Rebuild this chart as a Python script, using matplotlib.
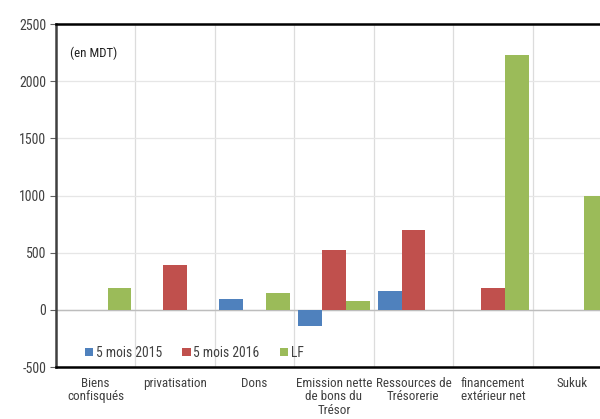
import matplotlib
matplotlib.use("Agg")
import matplotlib.pyplot as plt
import numpy as np
from matplotlib import font_manager

categories = ["Biens\nconfisqués", "privatisation", "Dons", "Emission nette\nde bons du\nTrésor",
              "Ressources de\nTrésorerie", "financement\nextérieur net", "Sukuk"]
series_names = ["5 mois 2015", "5 mois 2016", "LF"]
mois_2015 = [0, 0, 95, -145, 165, 0, 0]
mois_2016 = [0, 395, 0, 525, 700, 195, 0]
lf = [195, 0, 150, 80, 0, 2230, 1000]
colors = ["#4F81BD", "#C0504D", "#9BBB59"]
yticks = [-500, 0, 500, 1000, 1500, 2000, 2500]

names = {f.name for f in font_manager.fontManager.ttflist}
fam = "DejaVu Sans"
for cand in ["Roboto Condensed", "Liberation Sans Narrow", "Open Sans Condensed", "Lato"]:
    if cand in names:
        fam = cand
        break
plt.rcParams["font.family"] = [fam, "DejaVu Sans"]

fig = plt.figure(figsize=(6, 4.19), dpi=100)
ax = fig.add_axes([0.0933, 0.124, 0.9267, 0.8186])

x = np.arange(len(categories))
w = 0.3
for i, (vals, c, name) in enumerate(zip([mois_2015, mois_2016, lf], colors, series_names)):
    ax.bar(x + (i - 1) * w, vals, width=w, color=c, label=name, zorder=3)

ax.set_xlim(-0.5, len(categories) - 0.5)
ax.set_ylim(-500, 2500)
ax.set_yticks(yticks)
ax.set_yticklabels([str(t) for t in yticks], fontsize=10, color="#404040")

ax.set_xticks(x)
ax.set_xticklabels(categories, fontsize=9.4, color="#404040", linespacing=1.05)
ax.tick_params(axis="x", length=0, pad=7)
ax.tick_params(axis="y", length=4, width=0.8, color="#606060", pad=3)

ax.set_xticks(np.arange(len(categories) + 1) - 0.5, minor=True)
ax.tick_params(axis="x", which="minor", length=0)
ax.grid(True, which="minor", axis="x", color="#dcdcdc", lw=0.9, zorder=0)
ax.grid(True, which="major", axis="y", color="#e6e6e6", lw=0.9, zorder=0)
ax.axhline(0, color="#bdbdbd", lw=1.0, zorder=2)

for s in ["top", "bottom"]:
    ax.spines[s].set_color("black")
    ax.spines[s].set_linewidth(1.8)
ax.spines["left"].set_color("#404040")
ax.spines["left"].set_linewidth(1.8)
ax.spines["right"].set_visible(False)

ax.text(0.025, 0.905, "(en MDT)", transform=ax.transAxes, fontsize=9.3, color="#202020")

leg = ax.legend(loc="lower left", bbox_to_anchor=(0.03, -0.015), ncol=3, frameon=False,
                handlelength=0.6, handleheight=0.6, handletextpad=0.2, columnspacing=1.5,
                fontsize=9.8)
for t in leg.get_texts():
    t.set_color("#404040")

fig.savefig("out.png", dpi=100)
